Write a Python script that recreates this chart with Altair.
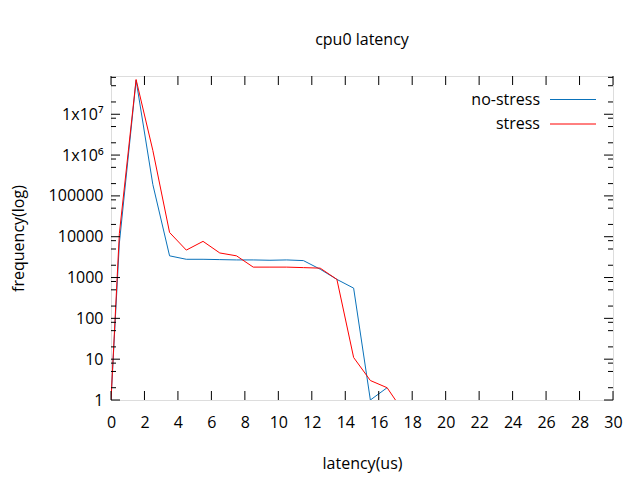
import altair as alt
import pandas as pd

# ---- data ----
x_blue = [0, 0.5, 1.5, 2.5, 3.5, 4.5, 5.5, 6.5, 7.5, 8.5, 9.5, 10.5, 11.5, 12.5, 13.5, 14.5, 15.5, 16.5]
no_stress = [1, 7000, 6.8e7, 1.9e5, 3400, 2800, 2800, 2750, 2700, 2700, 2650, 2700, 2600, 1600, 900, 550, 1, 2]

x_red = [0, 0.5, 1.5, 2.5, 3.5, 4.5, 5.5, 6.5, 7.5, 8.5, 9.5, 10.5, 11.5, 12.5, 13.5, 14.5, 15.5, 16.5, 17]
stress = [1, 12000, 7.1e7, 1.3e6, 12700, 4700, 7700, 4000, 3400, 1800, 1800, 1800, 1750, 1700, 900, 11, 3, 2, 1]

x_ticks = list(range(0, 31, 2))
y_major = [1, 10, 100, 1000, 10000, 100000, 1000000, 10000000]
y_minor = [m * 10 ** k for k in range(0, 8) for m in (2, 5, 8) if m * 10 ** k <= 8.6e7]

series_names = ["no-stress", "stress"]
series_colors = ["#0a72ba", "#ff0000"]

W, H = 502, 324
FONT = "Open Sans"

df = pd.concat([
    pd.DataFrame({"x": x_blue, "y": no_stress, "s": series_names[0]}),
    pd.DataFrame({"x": x_red, "y": stress, "s": series_names[1]}),
])

xscale = alt.Scale(domain=[0, 30], nice=False, zero=False)
yscale = alt.Scale(type="log", domain=[1, 8.65e7], nice=False)
cscale = alt.Scale(domain=series_names, range=series_colors)

label_expr = ("datum.value >= 1e7 ? '1x10\u2077' : datum.value >= 1e6 ? '1x10\u2076' : "
              "format(datum.value, 'd')")

x_axis = alt.Axis(values=x_ticks, labelOverlap=False, labelPadding=14,
                  title="latency(us)", titleX=W / 2, titleY=63, titleBaseline="middle")
y_axis = alt.Axis(values=y_major, labelExpr=label_expr, labelOverlap=False,
                  labelPadding=8, title="frequency(log)",
                  titleX=-93, titleY=H / 2, titleAngle=-90, titleBaseline="middle")

lines = alt.Chart(df).mark_line(strokeWidth=1, clip=True).encode(
    x=alt.X("x:Q", scale=xscale, axis=x_axis),
    y=alt.Y("y:Q", scale=yscale, axis=y_axis),
    color=alt.Color("s:N", scale=cscale, legend=None),
    detail="s:N",
)

xt = alt.Chart(pd.DataFrame({"x": x_ticks}))
x_bottom = xt.mark_rule(color="black", strokeWidth=1).encode(
    x=alt.X("x:Q", scale=xscale, axis=x_axis), y=alt.value(H), y2=alt.value(H - 9))
x_top = xt.mark_rule(color="black", strokeWidth=1).encode(
    x=alt.X("x:Q", scale=xscale, axis=x_axis), y=alt.value(0), y2=alt.value(9))

ymj = alt.Chart(pd.DataFrame({"y": y_major}))
ymn = alt.Chart(pd.DataFrame({"y": y_minor}))
y_left = ymj.mark_rule(color="black", strokeWidth=1).encode(
    y=alt.Y("y:Q", scale=yscale, axis=y_axis), x=alt.value(0), x2=alt.value(9))
y_right = ymj.mark_rule(color="black", strokeWidth=1).encode(
    y=alt.Y("y:Q", scale=yscale, axis=y_axis), x=alt.value(W), x2=alt.value(W - 9))
ym_left = ymn.mark_rule(color="black", strokeWidth=1).encode(
    y=alt.Y("y:Q", scale=yscale, axis=y_axis), x=alt.value(0), x2=alt.value(5))
ym_right = ymn.mark_rule(color="black", strokeWidth=1).encode(
    y=alt.Y("y:Q", scale=yscale, axis=y_axis), x=alt.value(W), x2=alt.value(W - 5))

# key (labels to the left of the samples, as in the reference)
key_layers = []
for i, (name, col) in enumerate(zip(series_names, series_colors)):
    ky = 23.5 + 24.5 * i
    kd = alt.Chart(pd.DataFrame({"s": [name]}))
    key_layers.append(kd.mark_text(align="right", baseline="middle", font=FONT, fontSize=16,
                                   color="black").encode(
        text="s:N", x=alt.value(429), y=alt.value(ky)))
    key_layers.append(kd.mark_rule(strokeWidth=1, color=col).encode(
        x=alt.value(439), x2=alt.value(485), y=alt.value(ky)))

chart = alt.layer(lines, x_bottom, x_top, y_left, y_right, ym_left, ym_right, *key_layers).properties(
    width=W, height=H,
    title=alt.TitleParams("cpu0 latency", font=FONT, fontSize=16, fontWeight="normal",
                          color="black", anchor="middle", offset=28),
    autosize=alt.AutoSizeParams(type="none"),
    padding={"left": 103, "top": 68, "right": 17, "bottom": 80},
).configure_view(stroke="black", strokeWidth=1).configure(background="white").configure_axis(
    labelOverlap=False, labelFlush=False, labelBound=False, tickSize=0, domain=False, grid=False,
    labelFontSize=16, labelFont=FONT, labelColor="black", titleFont=FONT, titleFontSize=16,
    titleFontWeight="normal", titleColor="black",
)

chart.save("out.html", embed_options={"renderer": "svg", "actions": False})
